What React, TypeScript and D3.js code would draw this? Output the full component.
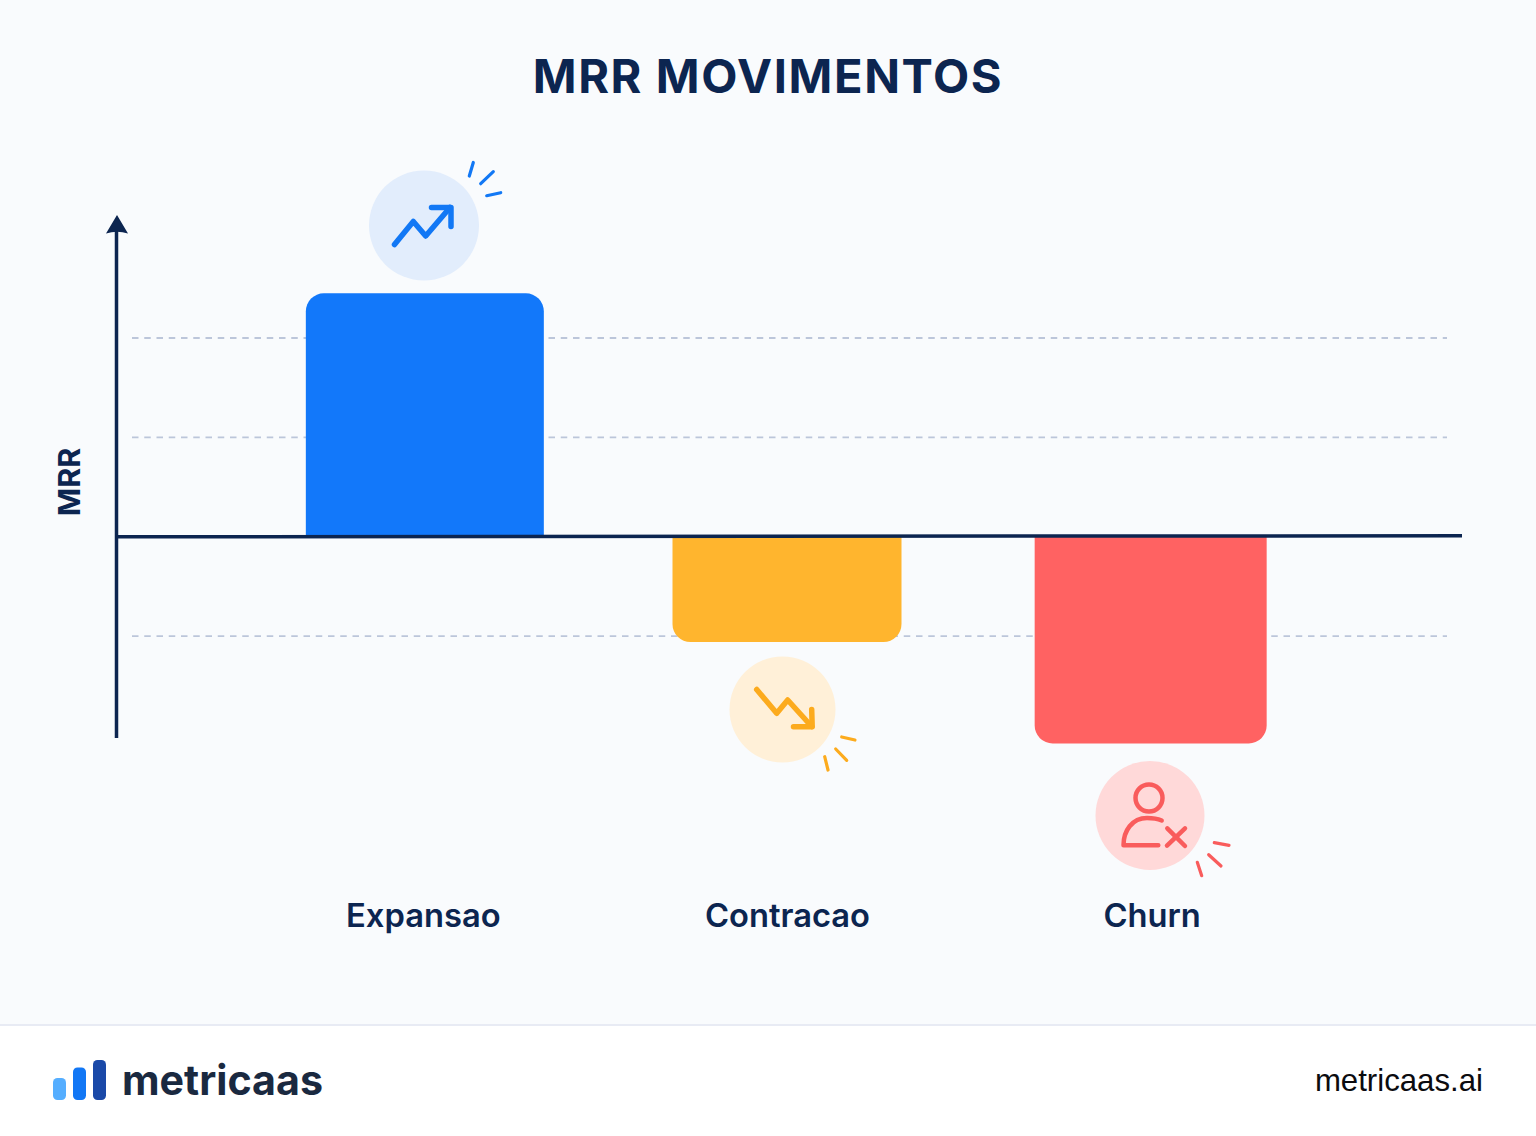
import React from "react";
import * as d3 from "d3";

const categories = ["Expansao", "Contracao", "Churn"];
const mrrValues = [2.45, -1.06, -2.08];
const gridValues = [2, 1, -1];
const barColors = ["#1278fa", "#ffb52e", "#ff6262"];
const barWidths = [238, 229, 232];
const circleColors = ["#e2edfc", "#fff0d8", "#ffd9d9"];
const iconColors = ["#1278f5", "#fcab1e", "#f95c5c"];
const titleText = "MRR MOVIMENTOS";
const yAxisLabel = "MRR";
const brandName = "metricaas";
const brandUrl = "metricaas.ai";

const NAVY = "#0c2550";
const FONT = "Inter, 'Noto Sans', sans-serif";

const x = d3.scaleBand<string>().domain(categories).range([243.5, 1331.5]);
const y = d3.scaleLinear().domain([-2, 2]).range([735.5, 338]);
const labelNudge = [-1.5, 0, 2];
const barNudge = [0, -0.5, 0.5];

function barPath(cx: number, w: number, v: number, r: number) {
  const x0 = cx - w / 2;
  const x1 = cx + w / 2;
  const y0 = y(0);
  const yv = y(v);
  const s = v > 0 ? 1 : -1;
  const sweep = v > 0 ? 1 : 0;
  return `M${x0},${y0}V${yv + s * r}A${r},${r} 0 0 ${sweep} ${x0 + r},${yv}H${x1 - r}A${r},${r} 0 0 ${sweep} ${x1},${yv + s * r}V${y0}Z`;
}

const icons = [
  {
    cx: 424, cy: 225.5, r: 55, sw: 5.5,
    paths: ["M394.5,244.5L413.3,221.5L425.7,236L450,207.5", "M431.5,207.5H451V226.5"],
    rays: ["M469.3,176L473.3,162.5", "M480.7,183.7L493.3,171.7", "M486.7,195.7L500.7,192.7"],
  },
  {
    cx: 782.5, cy: 709.5, r: 53, sw: 5.5,
    paths: ["M756.7,689.5L776.7,713.3L787.7,700L811.7,726.5", "M793.5,726.8H812.2L811.7,709.5"],
    rays: ["M841.7,737L855,740", "M835.7,749L846.7,760.3", "M824.7,756.7L828,770"],
  },
  {
    cx: 1150, cy: 815.5, r: 54.5, sw: 4.5,
    paths: [
      "M1161.7,820.5C1157,818.5 1152,818 1147,818C1132,818 1123.5,831 1123.5,845.2H1158.3",
      "M1167,845.7L1185,828.3",
      "M1167.3,828.3L1185,846",
    ],
    rays: ["M1214.3,842.7L1229,845.3", "M1208.7,854.7L1221,866", "M1197.3,862.3L1201.7,875.7"],
  },
];

export default function App() {
  const y0 = y(0);
  return (
    <svg
      width={1536}
      height={1136}
      viewBox="0 0 1536 1136"
      style={{ position: "absolute", left: 0, top: 0, display: "block" }}
    >
      <rect x={0} y={0} width={1536} height={1136} fill="#ffffff" />
      <rect x={0} y={0} width={1536} height={1025} fill="#f9fbfd" />
      <rect x={0} y={1024} width={1536} height={2} fill="#e8ebf4" />

      <text x={768} y={93} textAnchor="middle" fontFamily={FONT} fontWeight={700} fontSize={47} letterSpacing={1.6} fill={NAVY}>
        {titleText}
      </text>

      {gridValues.map((g) => (
        <line key={g} x1={132} x2={1447} y1={y(g)} y2={y(g)} stroke="#bcc6da" strokeWidth={1.8} strokeDasharray="6.5 5.75" />
      ))}

      {categories.map((c, i) => (
        <path
          key={c}
          d={barPath(x(c)! + x.bandwidth() / 2 + barNudge[i], barWidths[i], mrrValues[i], 18)}
          fill={barColors[i]}
        />
      ))}

      <line x1={116.5} x2={116.5} y1={228} y2={738} stroke={NAVY} strokeWidth={3.5} />
      <path d="M117,215L128,233.5Q117,230 106,233.5Z" fill={NAVY} />
      <line x1={116} x2={1462} y1={y0} y2={y0 - 1} stroke={NAVY} strokeWidth={3.5} />

      <text
        transform="translate(79.5,482) rotate(-90)"
        textAnchor="middle"
        fontFamily={FONT}
        fontWeight={700}
        fontSize={30.5}
        fill={NAVY}
      >
        {yAxisLabel}
      </text>

      {icons.map((ic, i) => (
        <g key={i} fill="none" stroke={iconColors[i]} strokeLinecap="round" strokeLinejoin="round">
          <circle cx={ic.cx} cy={ic.cy} r={ic.r} fill={circleColors[i]} stroke="none" />
          {i === 2 && <circle cx={1149} cy={798} r={13.5} strokeWidth={4.5} />}
          {ic.paths.map((d, k) => (
            <path key={k} d={d} strokeWidth={ic.sw} />
          ))}
          {ic.rays.map((d, k) => (
            <path key={k} d={d} strokeWidth={3.2} />
          ))}
        </g>
      ))}

      {categories.map((c, i) => (
        <text
          key={c}
          x={x(c)! + x.bandwidth() / 2 + labelNudge[i]}
          y={927}
          textAnchor="middle"
          fontFamily={FONT}
          fontWeight={600}
          fontSize={32.7}
          fill={NAVY}
        >
          {c}
        </text>
      ))}

      <rect x={53} y={1078} width={13} height={22} rx={4.5} fill="#55aeff" />
      <rect x={73} y={1067.5} width={13} height={32.5} rx={4.5} fill="#1277f5" />
      <rect x={93} y={1060} width={13} height={40} rx={4.5} fill="#1a49a8" />
      <text x={122} y={1095} fontFamily={FONT} fontWeight={700} fontSize={41.2} fill="#1a2940">
        {brandName}
      </text>
      <text x={1483} y={1091} textAnchor="end" fontFamily="'Liberation Sans', Arial, sans-serif" fontSize={31.2} fill="#0b0b0f">
        {brandUrl}
      </text>
    </svg>
  );
}
